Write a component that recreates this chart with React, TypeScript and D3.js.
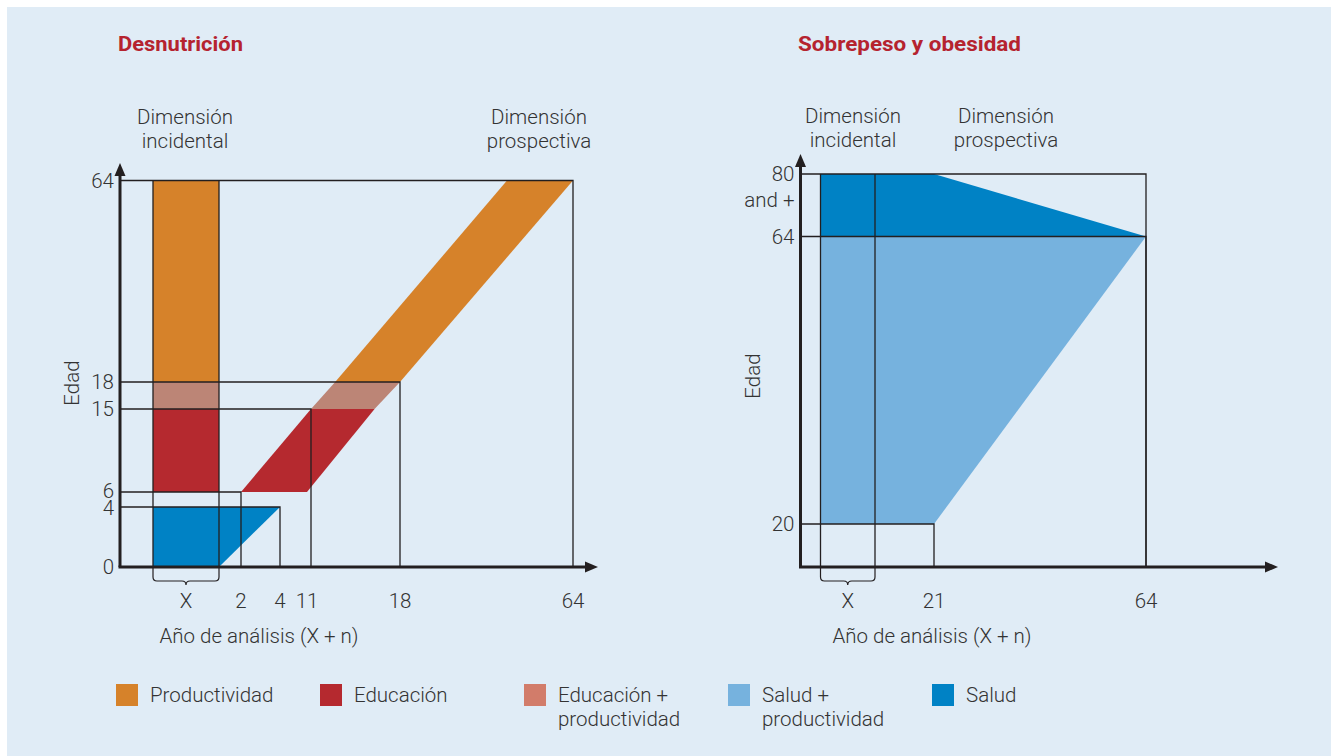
import React from "react";
import * as d3 from "d3";

// ---------- DATA ----------
const leftTitle = "Desnutrición";
const rightTitle = "Sobrepeso y obesidad";

// Left chart (Desnutrición): age ticks and year ticks
const leftAgeTicks = [0, 4, 6, 15, 18, 64];
const leftYearTicks = [2, 4, 11, 18, 64];
// reference rectangles [year, age]
const leftGuides: [number, number][] = [
  [64, 64],
  [18, 18],
  [11, 15],
  [2, 6],
  [4, 4],
];
// incidental column spans years -2..0 (the "X" year)
const xStart = -2;
const xEnd = 0;
// Column segments [ageFrom, ageTo, category]
const leftColumn: [number, number, string][] = [
  [18, 64, "prod"],
  [15, 18, "eduprod"],
  [6, 15, "edu"],
];
// Health triangle-band (year, age)
const leftSalud: [number, number][] = [
  [-2, 0],
  [-2, 4],
  [4, 4],
  [0, 0],
];
// Prospective diagonal band (year, age)
const bandEdu: [number, number][] = [
  [2, 6],
  [10.1, 6],
  [16, 15],
  [11, 15],
];
const bandEduProd: [number, number][] = [
  [11, 15],
  [16, 15],
  [18, 18],
  [12.9, 18],
];
const bandProd: [number, number][] = [
  [12.9, 18],
  [18, 18],
  [64, 64],
  [46.45, 64],
];

// Right chart (Sobrepeso y obesidad)
const rightAgeTicks = [20, 64, 80];
const rightYearTicks = [21, 64];
const rightGuides: [number, number][] = [
  [64, 80],
  [64, 64],
  [21, 20],
];
const rightSalud: [number, number][] = [
  [-2, 80],
  [21, 80],
  [64, 64],
  [-2, 64],
];
const rightSaludProd: [number, number][] = [
  [-2, 64],
  [64, 64],
  [21, 20],
  [-2, 20],
];

const headerIncidental = ["Dimensión", "incidental"];
const headerProspectiva = ["Dimensión", "prospectiva"];
const xAxisTitle = "Año de análisis (X + n)";
const yAxisTitle = "Edad";

const legendItems = [
  { key: "prod", lines: ["Productividad"] },
  { key: "edu", lines: ["Educación"] },
  { key: "eduprodLegend", lines: ["Educación +", "productividad"] },
  { key: "saludprod", lines: ["Salud +", "productividad"] },
  { key: "salud", lines: ["Salud"] },
];

// ---------- STYLE ----------
const COLORS: Record<string, string> = {
  prod: "#d6822a",
  edu: "#b5292f",
  eduprod: "#bc8576",
  eduprodLegend: "#d27c6a",
  saludprod: "#76b2de",
  salud: "#0082c5",
};
const BG = "#e0ecf6";
const INK = "#231f20";
const TXT = "#333333";
const TITLE = "#b5232f";
const FONT = "Roboto, 'Open Sans', sans-serif";
const FS = 20.5;
const LH = 23.5;

// ---------- SCALES ----------
const LX = d3
  .scaleLinear()
  .domain([-2.97, xStart, xEnd, 2, 4, 11, 18, 64])
  .range([120, 153, 219, 241, 280, 311, 400, 573]);
const LY = d3
  .scaleLinear()
  .domain([0, 4, 6, 15, 18, 64])
  .range([567, 507, 492, 409, 382, 180.5]);

const RX = d3
  .scaleLinear()
  .domain([-2.75, xStart, xEnd, 21, 64])
  .range([800.5, 820.5, 875, 934, 1146]);
const RY = d3.scaleLinear().domain([0, 20, 64, 80]).range([567, 524, 236.5, 174]);

function poly(pts: [number, number][], sx: any, sy: any) {
  const line = d3
    .line<[number, number]>()
    .x((d) => sx(d[0]))
    .y((d) => sy(d[1]));
  return line(pts) + "Z";
}

function bracket(x0: number, x1: number, y0: number) {
  const cx = (x0 + x1) / 2;
  const yb = y0 + 14;
  return `M${x0},${y0} V${yb - 4} Q${x0},${yb} ${x0 + 4},${yb} H${cx - 4} Q${cx},${yb} ${cx},${yb + 4} Q${cx},${yb} ${cx + 4},${yb} H${x1 - 4} Q${x1},${yb} ${x1},${yb - 4} V${y0}`;
}

function MultiLine(props: {
  x: number;
  y: number;
  lines: string[];
  lh: number;
  anchor?: string;
}) {
  return (
    <text x={props.x} y={props.y} textAnchor={props.anchor as any}>
      {props.lines.map((l, i) => (
        <tspan key={i} x={props.x} dy={i === 0 ? 0 : props.lh}>
          {l}
        </tspan>
      ))}
    </text>
  );
}

function Panel(props: {
  sx: any;
  sy: any;
  ageTicks: number[];
  yearTicks: number[];
  ageLabels?: Record<number, string[]>;
  ageNudge?: Record<number, number>;
  guides: [number, number][];
  columnTop: number;
  axisEndX: number;
  axisTopY: number;
  yearLabelNudge?: Record<number, number>;
  children?: React.ReactNode;
}) {
  const { sx, sy } = props;
  const ox = sx.range()[0];
  const oy = sy.range()[0];
  const c0 = sx(xStart);
  const c1 = sx(xEnd);
  const yTop = sy(props.columnTop);
  return (
    <g>
      {props.children}
      {/* guides */}
      <g stroke={INK} strokeWidth={1.3} fill="none">
        {props.guides.map(([x, y], i) => (
          <path key={i} d={`M${ox},${sy(y)} H${sx(x)} V${oy}`} />
        ))}
        <path d={`M${c0},${yTop} V${oy}`} />
        <path d={`M${c1},${yTop} V${oy}`} />
        <path d={bracket(c0, c1, oy)} strokeWidth={1.2} />
      </g>
      {/* axes */}
      <g stroke={INK} strokeWidth={3} fill="none">
        <path d={`M${ox},${oy} V${props.axisTopY + 10}`} />
        <path d={`M${ox - 1.5},${oy} H${props.axisEndX - 10}`} />
      </g>
      <path
        d={`M${ox},${props.axisTopY} L${ox - 5.5},${props.axisTopY + 13} L${ox + 5.5},${props.axisTopY + 13}Z`}
        fill={INK}
      />
      <path
        d={`M${props.axisEndX},${oy} L${props.axisEndX - 13},${oy - 5.5} L${props.axisEndX - 13},${oy + 5.5}Z`}
        fill={INK}
      />
      {/* age tick labels */}
      <g fontFamily={FONT} fontSize={FS} fill={TXT} fontWeight={300}>
        {props.ageTicks.map((t) => (
          <MultiLine
            key={t}
            x={ox - 6}
            y={sy(t) + 7 + (props.ageNudge?.[t] ?? 0)}
            lines={props.ageLabels?.[t] ?? [String(t)]}
            lh={26}
            anchor="end"
          />
        ))}
      </g>
      {/* year tick labels */}
      <g fontFamily={FONT} fontSize={FS} fill={TXT} fontWeight={300} textAnchor="middle">
        <text x={(c0 + c1) / 2} y={608}>
          X
        </text>
        {props.yearTicks.map((t) => (
          <text key={t} x={sx(t) + (props.yearLabelNudge?.[t] ?? 0)} y={608}>
            {t}
          </text>
        ))}
      </g>
    </g>
  );
}

export default function App() {
  const W = 1338;
  const H = 756;
  const legendX = [116, 320, 524, 728, 932];
  return (
    <svg
      width={W}
      height={H}
      style={{ position: "absolute", left: 0, top: 0, display: "block" }}
    >
      <rect x={0} y={0} width={W} height={H} fill="#ffffff" />
      <rect x={7} y={7} width={1324} height={H} fill={BG} />

      {/* titles */}
      <g fontFamily={FONT} fontWeight={700} fontSize={20} fill={TITLE}>
        <text x={118} y={51} textLength={125} lengthAdjust="spacingAndGlyphs">
          {leftTitle}
        </text>
        <text x={798} y={51} textLength={223} lengthAdjust="spacingAndGlyphs">
          {rightTitle}
        </text>
      </g>

      {/* dimension headers */}
      <g fontFamily={FONT} fontSize={FS} fill={TXT} fontWeight={300}>
        <MultiLine x={185} y={124} lines={headerIncidental} lh={LH} anchor="middle" />
        <MultiLine x={539} y={124} lines={headerProspectiva} lh={LH} anchor="middle" />
        <MultiLine x={853} y={123} lines={headerIncidental} lh={LH} anchor="middle" />
        <MultiLine x={1006} y={123} lines={headerProspectiva} lh={LH} anchor="middle" />
      </g>

      {/* LEFT PANEL */}
      <Panel
        sx={LX}
        sy={LY}
        ageTicks={leftAgeTicks}
        ageNudge={{ 6: -1, 4: 1 }}
        yearTicks={leftYearTicks}
        guides={leftGuides}
        columnTop={64}
        axisEndX={598}
        axisTopY={163}
        yearLabelNudge={{ 11: -4 }}
      >
        {leftColumn.map(([a0, a1, k]) => (
          <rect
            key={k}
            x={LX(xStart)}
            y={LY(a1)}
            width={LX(xEnd) - LX(xStart)}
            height={LY(a0) - LY(a1)}
            fill={COLORS[k]}
          />
        ))}
        <path d={poly(leftSalud, LX, LY)} fill={COLORS.salud} />
        <path d={poly(bandEdu, LX, LY)} fill={COLORS.edu} />
        <path d={poly(bandEduProd, LX, LY)} fill={COLORS.eduprod} />
        <path d={poly(bandProd, LX, LY)} fill={COLORS.prod} />
      </Panel>

      {/* RIGHT PANEL */}
      <Panel
        sx={RX}
        sy={RY}
        ageTicks={rightAgeTicks}
        ageLabels={{ 80: ["80", "and +"] }}
        yearTicks={rightYearTicks}
        guides={rightGuides}
        columnTop={80}
        axisEndX={1278}
        axisTopY={154}
      >
        <path d={poly(rightSaludProd, RX, RY)} fill={COLORS.saludprod} />
        <path d={poly(rightSalud, RX, RY)} fill={COLORS.salud} />
      </Panel>

      {/* axis titles */}
      <g fontFamily={FONT} fontSize={FS} fill={TXT} fontWeight={300}>
        <text x={259} y={643} textAnchor="middle">
          {xAxisTitle}
        </text>
        <text x={932} y={643} textAnchor="middle">
          {xAxisTitle}
        </text>
        <text transform="translate(79,383) rotate(-90)" textAnchor="middle">
          {yAxisTitle}
        </text>
        <text transform="translate(760,376) rotate(-90)" textAnchor="middle">
          {yAxisTitle}
        </text>
      </g>

      {/* legend */}
      <g fontFamily={FONT} fontSize={FS} fill={TXT} fontWeight={300}>
        {legendItems.map((it, i) => (
          <g key={it.key}>
            <rect x={legendX[i]} y={684} width={22} height={22} fill={COLORS[it.key]} />
            <MultiLine x={legendX[i] + 34} y={702} lines={it.lines} lh={LH + 0.5} />
          </g>
        ))}
      </g>
    </svg>
  );
}
